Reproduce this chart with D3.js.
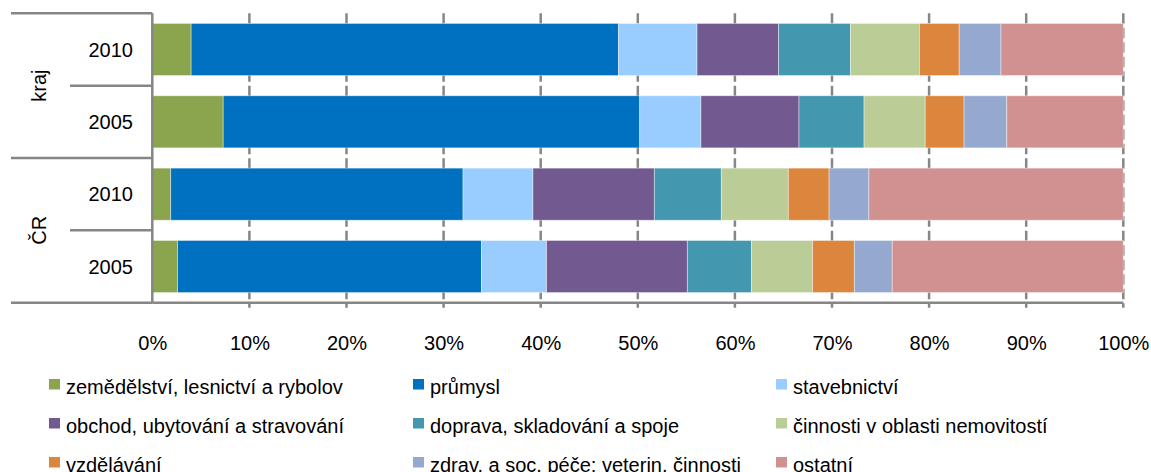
<!DOCTYPE html>
<html>
<head>
<meta charset="utf-8">
<script src="https://cdn.jsdelivr.net/npm/d3@7"></script>
<style>
  body { margin: 0; background: #fff; }
  svg { display: block; font-family: "Liberation Sans", Arial, sans-serif; }
</style>
</head>
<body>
<svg width="1151" height="472"></svg>
<script>
// rows, top to bottom
const rowGroup = ['kraj', 'kraj', 'ČR', 'ČR'];
const rowYear = ['2010', '2005', '2010', '2005'];
const groups = ['kraj', 'ČR'];

// sector names in stacking order (= legend order)
const sectors = [
  'zemědělství, lesnictví a rybolov',
  'průmysl',
  'stavebnictví',
  'obchod, ubytování a stravování',
  'doprava, skladování a spoje',
  'činnosti v oblasti nemovitostí',
  'vzdělávání',
  'zdrav. a soc. péče; veterin. činnosti',
  'ostatní'
];
const colors = ['#8ba54f', '#0070c0', '#99ccff', '#725990', '#4397ae',
  '#bbcd97', '#dc853c', '#95a9d0', '#d29191'];

// share in % for each row (kraj 2010, kraj 2005, ČR 2010, ČR 2005)
const zemedelstvi = [4.0, 7.3, 1.9, 2.6];
const prumysl = [44.0, 42.9, 30.1, 31.3];
const stavebnictvi = [8.1, 6.3, 7.2, 6.7];
const obchod = [8.4, 10.1, 12.5, 14.5];
const doprava = [7.4, 6.7, 6.9, 6.6];
const nemovitosti = [7.1, 6.3, 6.9, 6.3];
const vzdelavani = [4.1, 4.0, 4.2, 4.3];
const zdravotnictvi = [4.3, 4.4, 4.1, 3.9];
const ostatni = [12.6, 12.0, 26.2, 23.8];

const xTicks = [0, 0.1, 0.2, 0.3, 0.4, 0.5, 0.6, 0.7, 0.8, 0.9, 1];

const seriesValues = [zemedelstvi, prumysl, stavebnictvi, obchod, doprava,
  nemovitosti, vzdelavani, zdravotnictvi, ostatni];

const table = rowYear.map((yr, i) => {
  const o = {row: i};
  sectors.forEach((s, k) => { o[s] = seriesValues[k][i]; });
  return o;
});

const stacked = d3.stack()
  .keys(sectors)
  .offset(d3.stackOffsetExpand)(table);

const svg = d3.select('svg');
const grey = '#868686';

const x = d3.scaleLinear()
  .domain([0, 1])
  .range([152.3, 1123.3]);

const y = d3.scaleBand()
  .domain(d3.range(rowYear.length))
  .range([13.3, 302.7])
  .paddingInner(0.28)
  .paddingOuter(0.14);

const color = d3.scaleOrdinal().domain(sectors).range(colors);

const yTop = y.range()[0];
const yBottom = y.range()[1];

// dashed vertical gridlines (also serve as ticks below the axis)
svg.append('g')
  .selectAll('line')
  .data(xTicks.slice(1))
  .join('line')
    .attr('x1', d => x(d))
    .attr('x2', d => x(d))
    .attr('y1', yTop)
    .attr('y2', yBottom + 5)
    .attr('stroke', grey)
    .attr('stroke-width', 2.5)
    .attr('stroke-dasharray', '10.5,4');

// bars
svg.append('g')
  .selectAll('g')
  .data(stacked)
  .join('g')
    .attr('fill', d => color(d.key))
  .selectAll('rect')
  .data(d => d)
  .join('rect')
    .attr('x', d => x(d[0]))
    .attr('y', d => y(d.data.row))
    .attr('width', d => x(d[1]) - x(d[0]))
    .attr('height', y.bandwidth())
    .attr('stroke', '#fff')
    .attr('stroke-opacity', 0.5)
    .attr('stroke-width', 0.8);

// axis lines
svg.append('line')
  .attr('x1', x(0)).attr('x2', x(0))
  .attr('y1', yTop).attr('y2', yBottom)
  .attr('stroke', grey).attr('stroke-width', 2.5);
svg.append('line')
  .attr('x1', x(0)).attr('x2', x(1))
  .attr('y1', yBottom).attr('y2', yBottom)
  .attr('stroke', grey).attr('stroke-width', 2.5);

// x tick labels
const xAxis = svg.append('g')
  .attr('transform', `translate(0,${yBottom})`)
  .call(d3.axisBottom(x)
    .tickValues(xTicks)
    .tickFormat(d3.format('.0%'))
    .tickSize(0)
    .tickPadding(33));
xAxis.select('.domain').remove();
xAxis.selectAll('text')
  .attr('font-size', 20)
  .attr('font-family', '"Liberation Sans", Arial, sans-serif')
  .attr('fill', '#000');

// category separators on the left
const step = y.step();
const rowEdges = d3.range(rowYear.length + 1).map(i =>
  i === 0 ? yTop : i === rowYear.length ? yBottom : y(i) - (step - y.bandwidth()) / 2);
svg.append('g')
  .selectAll('line')
  .data(rowEdges)
  .join('line')
    .attr('x1', (d, i) => (i % 2 === 0 ? 11 : 70))
    .attr('x2', x(0))
    .attr('y1', d => d)
    .attr('y2', d => d)
    .attr('stroke', grey)
    .attr('stroke-width', 2.5);

// year labels
svg.append('g')
  .selectAll('text')
  .data(rowYear)
  .join('text')
    .attr('x', 133)
    .attr('y', (d, i) => y(i) + y.bandwidth() / 2)
    .attr('dy', '0.36em')
    .attr('text-anchor', 'end')
    .attr('font-size', 20)
    .text(d => d);

// group labels (rotated)
svg.append('g')
  .selectAll('text')
  .data(groups)
  .join('text')
    .attr('transform', g => {
      const idx = rowGroup.map((r, i) => r === g ? i : -1).filter(i => i >= 0);
      const cy = (rowEdges[idx[0]] + rowEdges[idx[idx.length - 1] + 1]) / 2;
      return `translate(46,${cy}) rotate(-90)`;
    })
    .attr('text-anchor', 'middle')
    .attr('font-size', 20)
    .text(d => d);

// legend: 3 columns
const legendCols = [49, 413, 776];
const legendRows = [379, 418, 457];
const legend = svg.append('g')
  .selectAll('g')
  .data(sectors)
  .join('g')
    .attr('transform', (d, i) => `translate(${legendCols[i % 3]},${legendRows[Math.floor(i / 3)]})`);
legend.append('rect')
  .attr('width', 11)
  .attr('height', 10.5)
  .attr('fill', d => color(d));
legend.append('text')
  .attr('x', 17)
  .attr('y', 15)
  .attr('font-size', 20)
  .text(d => d);
</script>
</body>
</html>
